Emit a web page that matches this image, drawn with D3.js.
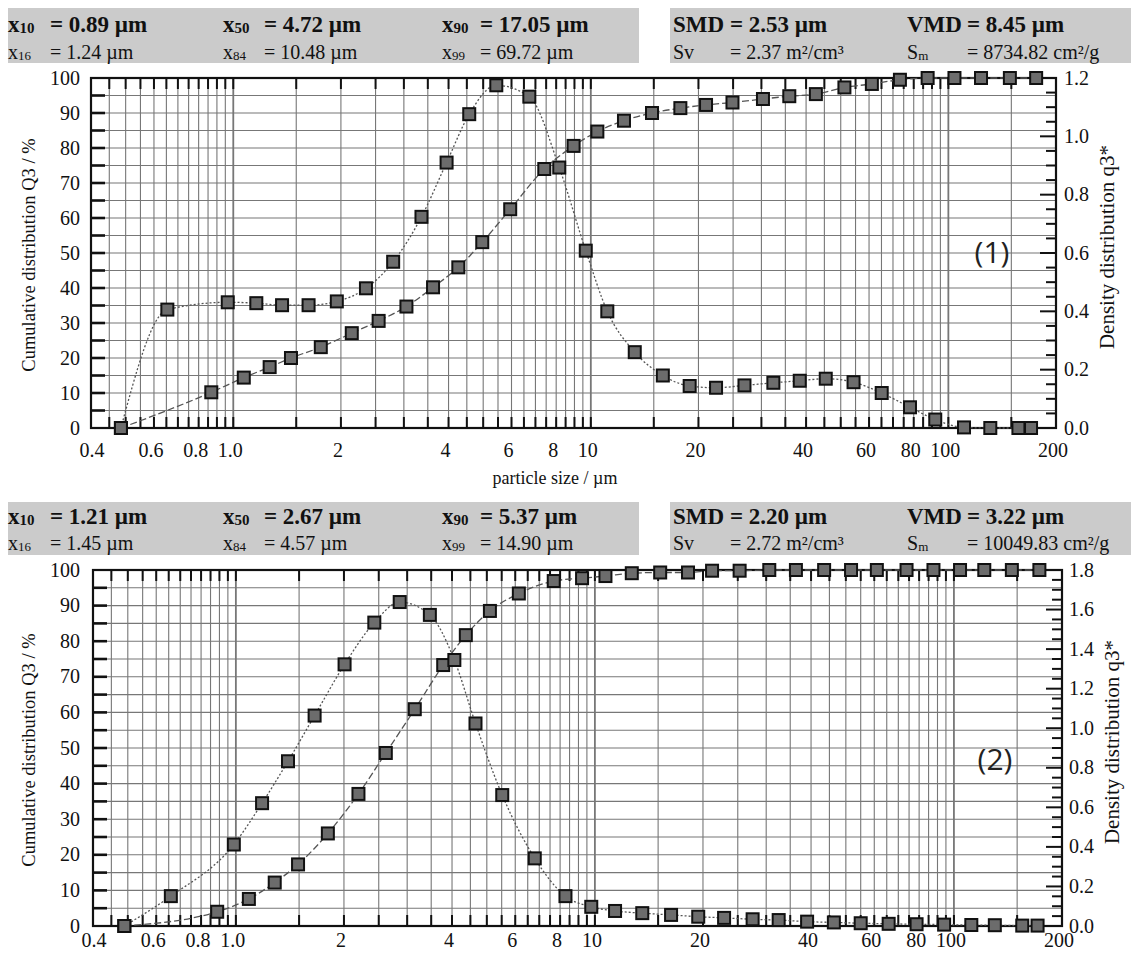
<!DOCTYPE html>
<html><head><meta charset="utf-8">
<script src="https://cdn.jsdelivr.net/npm/d3@7"></script>
<style>body{margin:0;background:#fff}</style>
</head><body>
<svg id="c" width="1131" height="954"></svg>
<script>
// ---------- data ----------
const cum1Size = [0.485,0.868,1.07,1.264,1.45,1.757,2.145,2.55,3.05,3.62,4.26,4.97,5.95,7.41,8.95,10.43,12.38,14.83,17.8,21.0,24.9,30.3,35.9,42.6,51.2,61.1,73.2,87.5,104,123.4,148.6,176];
const cum1Q3   = [0,10.2,14.4,17.4,20.0,23.1,27.1,30.6,34.7,40.2,45.9,53.1,62.5,74.0,80.6,84.7,87.8,90.0,91.4,92.3,93.0,94.0,94.8,95.4,97.3,98.3,99.5,100,100,100,100,100];
const den1Size = [0.485,0.654,0.965,1.16,1.369,1.624,1.948,2.35,2.80,3.36,3.95,4.57,5.44,6.73,8.16,9.68,11.12,13.27,15.9,18.9,22.4,26.9,32.4,38.4,45.4,54.3,65.1,78.1,91.9,110.6,131,157,170.3];
const den1q3   = [0,0.406,0.431,0.428,0.421,0.421,0.434,0.479,0.570,0.724,0.910,1.076,1.175,1.136,0.893,0.608,0.400,0.260,0.180,0.144,0.138,0.146,0.155,0.162,0.169,0.157,0.120,0.071,0.029,0.002,0,0,0];

const cum2Size = [0.489,0.887,1.087,1.283,1.49,1.804,2.195,2.616,3.15,3.78,4.37,5.10,6.14,7.68,9.21,10.7,12.67,15.2,18.17,21.2,25.3,30.6,36.3,43.5,51.7,61.0,73.8,87.7,104,121.5,145,173];
const cum2Q3   = [0,4.0,7.6,12.2,17.3,26.0,37.1,48.6,60.9,73.3,81.7,88.5,93.4,96.9,97.7,98.3,99.1,99.3,99.3,99.8,99.8,100,100,100,100,100,100,100,100,100,100,100];
const den2Size = [0.489,0.659,0.987,1.183,1.397,1.657,2.008,2.43,2.86,3.47,4.06,4.65,5.52,6.80,8.28,9.77,11.38,13.55,16.3,19.4,22.9,27.5,32.5,39.0,46.3,55.0,65.8,78.7,93.9,111.8,130,155,171];
const den2q3   = [0,0.151,0.412,0.621,0.833,1.064,1.323,1.534,1.638,1.573,1.345,1.024,0.662,0.342,0.151,0.097,0.076,0.065,0.056,0.047,0.041,0.034,0.030,0.022,0.018,0.014,0.011,0.009,0.007,0.005,0.004,0.002,0.002];

const xTickValues = [0.4,0.6,0.8,1.0,2,4,6,8,10,20,40,60,80,100,200];
const xTickLabels = ["0.4","0.6","0.8","1.0","2","4","6","8","10","20","40","60","80","100","200"];
const leftTickValues = [0,10,20,30,40,50,60,70,80,90,100];
const right1TickValues = [0,0.2,0.4,0.6,0.8,1.0,1.2];
const right2TickValues = [0,0.2,0.4,0.6,0.8,1.0,1.2,1.4,1.6,1.8];

const hdr1Row1 = [["x","10","= 0.89 µm"],["x","50","= 4.72 µm"],["x","90","= 17.05 µm"],["SMD","","= 2.53 µm"],["VMD","","= 8.45 µm"]];
const hdr1Row2 = [["x","16","= 1.24 µm"],["x","84","= 10.48 µm"],["x","99","= 69.72 µm"],["Sv","","= 2.37 m²/cm³"],["S","m","= 8734.82 cm²/g"]];
const hdr2Row1 = [["x","10","= 1.21 µm"],["x","50","= 2.67 µm"],["x","90","= 5.37 µm"],["SMD","","= 2.20 µm"],["VMD","","= 3.22 µm"]];
const hdr2Row2 = [["x","16","= 1.45 µm"],["x","84","= 4.57 µm"],["x","99","= 14.90 µm"],["Sv","","= 2.72 m²/cm³"],["S","m","= 10049.83 cm²/g"]];

const leftTitle = "Cumulative distribution Q3 / %";
const rightTitle = "Density distribution q3*";
const xTitle = "particle size / µm";

// grid positions (log paper)
const gridValues = [].concat(
  d3.range(0.45, 1.0001, 0.05),
  d3.range(1.5, 10.0001, 0.5),
  d3.range(15, 100.001, 5),
  [150, 200]
);

// ---------- layout ----------
const SERIF = "'Liberation Serif','Times New Roman',serif";
const svg = d3.select("#c");
const hdrCols = [8, 223, 442, 673, 907];
const hdrOff  = [42, 41, 38, 57, 60];

const charts = [
  {top:78, bottom:428, x0:91, x1:1056, rMax:1.2, rTicks:right1TickValues, hdrY:8, hdrH:55, row1:32, row2:59, tickY:457, tag:"(1)", tagX:992, tagY:252,
   cumX:cum1Size, cumY:cum1Q3, denX:den1Size, denY:den1q3, h1:hdr1Row1, h2:hdr1Row2, rLabX:1064, rTitleX:1114, xTitle:true},
  {top:570, bottom:926, x0:93, x1:1062, rMax:1.8, rTicks:right2TickValues, hdrY:502, hdrH:53, row1:524, row2:550, tickY:947, tag:"(2)", tagX:995, tagY:759,
   cumX:cum2Size, cumY:cum2Q3, denX:den2Size, denY:den2q3, h1:hdr2Row1, h2:hdr2Row2, rLabX:1069, rTitleX:1119, xTitle:false}
];

function hdrItem(g, x, y, item, size, bold, off) {
  const t = g.append("text").attr("x", x).attr("y", y)
    .attr("font-family", SERIF).attr("font-size", size)
    .attr("font-weight", bold ? "bold" : "normal").attr("fill", "#111");
  t.append("tspan").text(item[0]);
  if (item[1]) t.append("tspan").attr("font-size", Math.round(size*0.66)).attr("dy", 1).text(item[1]);
  g.append("text").attr("x", x + off).attr("y", y)
    .attr("font-family", SERIF).attr("font-size", size)
    .attr("font-weight", bold ? "bold" : "normal").attr("fill", "#111").text(item[2]);
}

charts.forEach(c => {
  const g = svg.append("g");
  const x = d3.scaleLog().domain([0.4, 200]).range([c.x0, c.x1]);
  const yL = d3.scaleLinear().domain([0, 100]).range([c.bottom, c.top]);
  const yR = d3.scaleLinear().domain([0, c.rMax]).range([c.bottom, c.top]);

  // header boxes
  g.append("rect").attr("x", 8).attr("y", c.hdrY).attr("width", 631).attr("height", c.hdrH).attr("fill", "#cbcbcb");
  g.append("rect").attr("x", 670).attr("y", c.hdrY).attr("width", 461).attr("height", c.hdrH).attr("fill", "#cbcbcb");
  c.h1.forEach((it, i) => hdrItem(g, hdrCols[i], c.row1, it, 23, true, hdrOff[i]));
  c.h2.forEach((it, i) => hdrItem(g, hdrCols[i], c.row2, it, 20, false, hdrOff[i]));

  // grid
  g.append("g").selectAll("line").data(gridValues).join("line")
    .attr("x1", d => x(d)).attr("x2", d => x(d)).attr("y1", c.top).attr("y2", c.bottom)
    .attr("stroke", "#777").attr("stroke-width", d => (Math.abs(d-1)<1e-6||Math.abs(d-10)<1e-6||Math.abs(d-100)<1e-6) ? 1.8 : 1.1);
  const hGrid = d3.range(5, 100, 5);
  g.append("g").selectAll("line").data(hGrid).join("line")
    .attr("x1", c.x0).attr("x2", c.x1).attr("y1", d => yL(d)).attr("y2", d => yL(d))
    .attr("stroke", "#777").attr("stroke-width", 1.1);

  // inner ticks: left every 5 %
  g.append("g").selectAll("line").data(d3.range(5, 100, 5)).join("line")
    .attr("x1", c.x0).attr("x2", c.x0 + 14).attr("y1", d => yL(d)).attr("y2", d => yL(d))
    .attr("stroke", "#111").attr("stroke-width", 2.6);
  // right ticks every 0.05
  const rMinor = d3.range(0.05, c.rMax - 0.001, 0.05);
  g.append("g").selectAll("line").data(rMinor).join("line")
    .attr("x1", c.x1).attr("x2", d => c.x1 - (Math.abs(d/0.2 - Math.round(d/0.2)) < 1e-6 ? 16 : 10))
    .attr("y1", d => yR(d)).attr("y2", d => yR(d))
    .attr("stroke", "#111").attr("stroke-width", 2);
  // top/bottom ticks
  const tb = gridValues.filter(d => d < 200);
  g.append("g").selectAll("line").data(tb).join("line")
    .attr("x1", d => x(d)).attr("x2", d => x(d)).attr("y1", c.bottom).attr("y2", c.bottom - 11)
    .attr("stroke", "#111").attr("stroke-width", 2);
  g.append("g").selectAll("line").data(tb).join("line")
    .attr("x1", d => x(d)).attr("x2", d => x(d)).attr("y1", c.top).attr("y2", c.top + 11)
    .attr("stroke", "#111").attr("stroke-width", 2);

  // frame
  g.append("rect").attr("x", c.x0).attr("y", c.top).attr("width", c.x1 - c.x0).attr("height", c.bottom - c.top)
    .attr("fill", "none").attr("stroke", "#111").attr("stroke-width", 2.2);

  // axes labels
  g.append("g").selectAll("text").data(leftTickValues).join("text")
    .attr("x", 80).attr("y", d => yL(d)).attr("dy", "0.33em").attr("text-anchor", "end")
    .attr("font-family", SERIF).attr("font-size", 20).attr("fill", "#111").text(d => d);
  g.append("g").selectAll("text").data(c.rTicks).join("text")
    .attr("x", c.rLabX).attr("y", d => yR(d)).attr("dy", "0.33em").attr("text-anchor", "start")
    .attr("font-family", SERIF).attr("font-size", 20).attr("fill", "#111").text(d => d.toFixed(1));
  g.append("g").selectAll("text").data(xTickValues).join("text")
    .attr("x", (d, i) => x(d) - (i === 0 ? -1 : 3)).attr("y", c.tickY).attr("text-anchor", "middle")
    .attr("font-family", SERIF).attr("font-size", 20).attr("fill", "#111").text((d, i) => xTickLabels[i]);

  const mid = (c.top + c.bottom) / 2;
  g.append("text").attr("transform", `translate(35,${mid + 2}) rotate(-90)`).attr("text-anchor", "middle")
    .attr("font-family", SERIF).attr("font-size", 18.5).attr("fill", "#111").text(leftTitle);
  g.append("text").attr("transform", `translate(${c.rTitleX},${mid - 6}) rotate(-90)`).attr("text-anchor", "middle")
    .attr("font-family", SERIF).attr("font-size", 21).attr("fill", "#111").text(rightTitle);
  if (c.xTitle) {
    g.append("text").attr("x", 555).attr("y", 484).attr("text-anchor", "middle")
      .attr("font-family", SERIF).attr("font-size", 18).attr("fill", "#111").text(xTitle);
  }
  g.append("text").attr("x", c.tagX).attr("y", c.tagY).attr("dy", "0.35em").attr("text-anchor", "middle")
    .attr("font-family", "'Open Sans','Noto Sans',sans-serif").attr("font-size", 30).attr("fill", "#222").text(c.tag);

  // series
  const cum = c.cumX.map((v, i) => [v, c.cumY[i]]);
  const den = c.denX.map((v, i) => [v, c.denY[i]]);
  const lineL = d3.line().x(d => x(d[0])).y(d => yL(d[1])).curve(d3.curveMonotoneX);
  const lineR = d3.line().x(d => x(d[0])).y(d => yR(d[1])).curve(d3.curveMonotoneX);
  g.append("path").attr("d", lineL(cum)).attr("fill", "none").attr("stroke", "#555").attr("stroke-width", 1.3).attr("stroke-dasharray", "7,3");
  g.append("path").attr("d", lineR(den)).attr("fill", "none").attr("stroke", "#555").attr("stroke-width", 1.3).attr("stroke-dasharray", "2,2");

  const S = 12;
  g.append("g").selectAll("rect").data(cum).join("rect")
    .attr("x", d => x(d[0]) - S/2).attr("y", d => yL(d[1]) - S/2).attr("width", S).attr("height", S)
    .attr("fill", "#6c6c6c").attr("stroke", "#111").attr("stroke-width", 2);
  g.append("g").selectAll("rect").data(den).join("rect")
    .attr("x", d => x(d[0]) - S/2).attr("y", d => yR(d[1]) - S/2).attr("width", S).attr("height", S)
    .attr("fill", "#6c6c6c").attr("stroke", "#111").attr("stroke-width", 2);
});
</script>
</body></html>
